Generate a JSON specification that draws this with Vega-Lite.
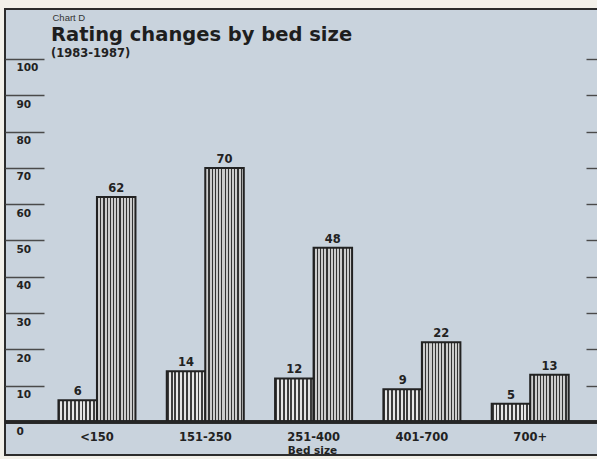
{
  "$schema": "https://vega.github.io/schema/vega-lite/v6.json",
  "autosize": {"type": "none"},
  "padding": {"left": 5, "top": 9, "right": 0, "bottom": 4},
  "width": 593,
  "height": 446,
  "background": "#f3f1ea",
  "title": {
    "text": "Rating changes by bed size",
    "subtitle": "(1983-1987)",
    "anchor": "start",
    "frame": "group",
    "orient": "top",
    "offset": -51,
    "dx": 46,
    "font": "DejaVu Sans",
    "fontSize": 19.5,
    "fontWeight": "bold",
    "color": "#1e1e1e",
    "subtitleFont": "DejaVu Sans",
    "subtitleFontSize": 11.5,
    "subtitleFontWeight": "bold",
    "subtitleColor": "#222222",
    "subtitlePadding": 2
  },
  "data": {
    "values": [
      {"beds": "<150", "series": "S1", "value": 6},
      {"beds": "<150", "series": "S2", "value": 62},
      {"beds": "151-250", "series": "S1", "value": 14},
      {"beds": "151-250", "series": "S2", "value": 70},
      {"beds": "251-400", "series": "S1", "value": 12},
      {"beds": "251-400", "series": "S2", "value": 48},
      {"beds": "401-700", "series": "S1", "value": 9},
      {"beds": "401-700", "series": "S2", "value": 22},
      {"beds": "700+", "series": "S1", "value": 5},
      {"beds": "700+", "series": "S2", "value": 13}
    ]
  },
  "encoding": {
    "x": {
      "field": "beds", "type": "nominal", "sort": null,
      "scale": {"paddingInner": 0.289, "paddingOuter": 0.382, "align": 0.646},
      "axis": {
        "title": "Bed size",
        "orient": "bottom",
        "offset": -33,
        "domain": false,
        "ticks": false,
        "labelAngle": 0,
        "labelPadding": 9,
        "labelBaseline": "top",
        "labelFont": "DejaVu Sans",
        "labelFontWeight": "bold",
        "labelFontSize": 11.5,
        "labelColor": "#222222",
        "titleFont": "DejaVu Sans",
        "titleFontWeight": "bold",
        "titleFontSize": 10.5,
        "titleColor": "#222222",
        "titlePadding": 3,
        "titleX": 307
      }
    },
    "xOffset": {"field": "series", "type": "nominal", "scale": {"paddingInner": 0, "paddingOuter": 0}}
  },
  "layer": [
    {
      "transform": [{"filter": "datum.series === 'S1'"}],
      "mark": {
        "type": "bar",
        "stroke": "#222222",
        "strokeWidth": 2,
        "fill": {
          "gradient": "linear", "x1": 0, "y1": 0, "x2": 1, "y2": 0,
          "stops": [
            {"offset": 0, "color": "#3c3c3c"}, {"offset": 0.05, "color": "#3c3c3c"},
            {"offset": 0.05, "color": "#e6e6e6"}, {"offset": 0.1, "color": "#e6e6e6"},
            {"offset": 0.1, "color": "#3c3c3c"}, {"offset": 0.15, "color": "#3c3c3c"},
            {"offset": 0.15, "color": "#e6e6e6"}, {"offset": 0.2, "color": "#e6e6e6"},
            {"offset": 0.2, "color": "#3c3c3c"}, {"offset": 0.25, "color": "#3c3c3c"},
            {"offset": 0.25, "color": "#e6e6e6"}, {"offset": 0.3, "color": "#e6e6e6"},
            {"offset": 0.3, "color": "#3c3c3c"}, {"offset": 0.35, "color": "#3c3c3c"},
            {"offset": 0.35, "color": "#e6e6e6"}, {"offset": 0.4, "color": "#e6e6e6"},
            {"offset": 0.4, "color": "#3c3c3c"}, {"offset": 0.45, "color": "#3c3c3c"},
            {"offset": 0.45, "color": "#e6e6e6"}, {"offset": 0.5, "color": "#e6e6e6"},
            {"offset": 0.5, "color": "#3c3c3c"}, {"offset": 0.55, "color": "#3c3c3c"},
            {"offset": 0.55, "color": "#e6e6e6"}, {"offset": 0.6, "color": "#e6e6e6"},
            {"offset": 0.6, "color": "#3c3c3c"}, {"offset": 0.65, "color": "#3c3c3c"},
            {"offset": 0.65, "color": "#e6e6e6"}, {"offset": 0.7, "color": "#e6e6e6"},
            {"offset": 0.7, "color": "#3c3c3c"}, {"offset": 0.75, "color": "#3c3c3c"},
            {"offset": 0.75, "color": "#e6e6e6"}, {"offset": 0.8, "color": "#e6e6e6"},
            {"offset": 0.8, "color": "#3c3c3c"}, {"offset": 0.85, "color": "#3c3c3c"},
            {"offset": 0.85, "color": "#e6e6e6"}, {"offset": 0.9, "color": "#e6e6e6"},
            {"offset": 0.9, "color": "#3c3c3c"}, {"offset": 0.95, "color": "#3c3c3c"},
            {"offset": 0.95, "color": "#e6e6e6"}, {"offset": 1, "color": "#e6e6e6"}
          ]
        }
      },
      "encoding": {
        "y": {
          "field": "value", "type": "quantitative",
          "scale": {"domain": [-9.09, 113.77], "nice": false, "zero": false},
          "axis": {
            "orient": "left",
            "values": [0, 10, 20, 30, 40, 50, 60, 70, 80, 90, 100],
            "domain": false,
            "grid": false,
            "tickSize": -39,
            "tickWidth": 1.4,
            "tickColor": "#4a4a4a",
            "labelAlign": "left",
            "labelBaseline": "top",
            "labelPadding": 28,
            "labelOffset": 4,
            "labelFont": "DejaVu Sans",
            "labelFontWeight": "bold",
            "labelFontSize": 10.5,
            "labelColor": "#222222",
            "title": "Chart D",
            "titleAngle": 0,
            "titleX": 47,
            "titleY": 3,
            "titleAlign": "left",
            "titleBaseline": "top",
            "titleFont": "Liberation Sans",
            "titleFontSize": 9.5,
            "titleFontWeight": "normal",
            "titleColor": "#333333"
          }
        },
        "y2": {"datum": 0}
      }
    },
    {
      "transform": [{"filter": "datum.series === 'S2'"}],
      "mark": {
        "type": "bar",
        "stroke": "#222222",
        "strokeWidth": 2,
        "fill": {
          "gradient": "linear", "x1": 0, "y1": 0, "x2": 1, "y2": 0,
          "stops": [
            {"offset": 0, "color": "#333333"}, {"offset": 0.03, "color": "#333333"},
            {"offset": 0.03, "color": "#cccccc"}, {"offset": 0.0833, "color": "#cccccc"},
            {"offset": 0.0833, "color": "#333333"}, {"offset": 0.1133, "color": "#333333"},
            {"offset": 0.1133, "color": "#cccccc"}, {"offset": 0.1667, "color": "#cccccc"},
            {"offset": 0.1667, "color": "#333333"}, {"offset": 0.1967, "color": "#333333"},
            {"offset": 0.1967, "color": "#cccccc"}, {"offset": 0.25, "color": "#cccccc"},
            {"offset": 0.25, "color": "#333333"}, {"offset": 0.28, "color": "#333333"},
            {"offset": 0.28, "color": "#cccccc"}, {"offset": 0.3333, "color": "#cccccc"},
            {"offset": 0.3333, "color": "#333333"}, {"offset": 0.3633, "color": "#333333"},
            {"offset": 0.3633, "color": "#cccccc"}, {"offset": 0.4167, "color": "#cccccc"},
            {"offset": 0.4167, "color": "#333333"}, {"offset": 0.4467, "color": "#333333"},
            {"offset": 0.4467, "color": "#cccccc"}, {"offset": 0.5, "color": "#cccccc"},
            {"offset": 0.5, "color": "#333333"}, {"offset": 0.53, "color": "#333333"},
            {"offset": 0.53, "color": "#cccccc"}, {"offset": 0.5833, "color": "#cccccc"},
            {"offset": 0.5833, "color": "#333333"}, {"offset": 0.6133, "color": "#333333"},
            {"offset": 0.6133, "color": "#cccccc"}, {"offset": 0.6667, "color": "#cccccc"},
            {"offset": 0.6667, "color": "#333333"}, {"offset": 0.6967, "color": "#333333"},
            {"offset": 0.6967, "color": "#cccccc"}, {"offset": 0.75, "color": "#cccccc"},
            {"offset": 0.75, "color": "#333333"}, {"offset": 0.78, "color": "#333333"},
            {"offset": 0.78, "color": "#cccccc"}, {"offset": 0.8333, "color": "#cccccc"},
            {"offset": 0.8333, "color": "#333333"}, {"offset": 0.8633, "color": "#333333"},
            {"offset": 0.8633, "color": "#cccccc"}, {"offset": 0.9167, "color": "#cccccc"},
            {"offset": 0.9167, "color": "#333333"}, {"offset": 0.9467, "color": "#333333"},
            {"offset": 0.9467, "color": "#cccccc"}, {"offset": 1, "color": "#cccccc"}
          ]
        }
      },
      "encoding": {
        "y": {"field": "value", "type": "quantitative", "axis": null},
        "y2": {"datum": 0}
      }
    },
    {
      "mark": {
        "type": "text",
        "baseline": "bottom",
        "dy": -3,
        "font": "DejaVu Sans",
        "fontWeight": "bold",
        "fontSize": 11.5,
        "color": "#222222"
      },
      "encoding": {
        "y": {"field": "value", "type": "quantitative", "axis": null},
        "text": {"field": "value", "type": "quantitative"}
      }
    },
    {
      "mark": {"type": "rule", "stroke": "#262626", "strokeWidth": 2.5},
      "encoding": {
        "x": null,
        "xOffset": null,
        "y": {
          "datum": 0,
          "axis": {
            "orient": "right",
            "values": [10, 20, 30, 40, 50, 60, 70, 80, 90, 100],
            "domain": false,
            "grid": false,
            "labels": false,
            "title": null,
            "tickSize": -12,
            "tickWidth": 1.4,
            "tickColor": "#4a4a4a"
          }
        }
      }
    }
  ],
  "resolve": {"axis": {"y": "independent"}},
  "config": {
    "view": {"fill": "#c9d3dd", "stroke": "#2c2c2c", "strokeWidth": 2}
  }
}
